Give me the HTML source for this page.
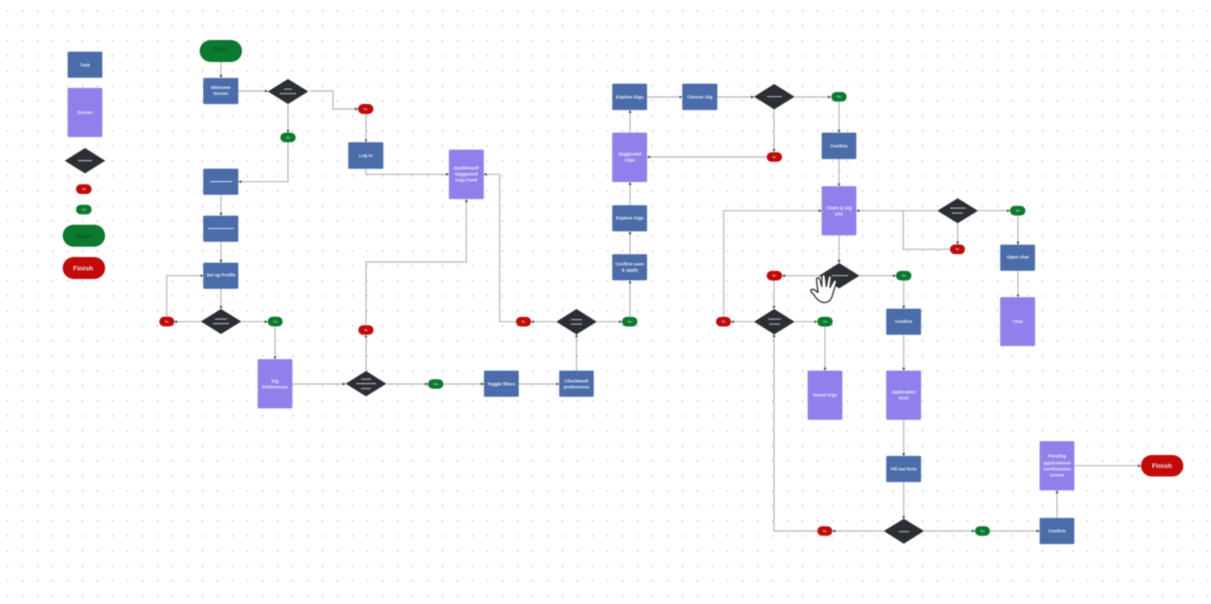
<!DOCTYPE html>
<html><head><meta charset="utf-8"><style>
html,body{margin:0;padding:0;background:#fff;width:1211px;height:604px;overflow:hidden}
svg{display:block;filter:blur(.5px)}
text{font-family:"Liberation Sans",sans-serif;font-weight:700;text-anchor:middle;fill:#eef0fb;font-size:4.5px}
.t{fill:#4a6ca8;stroke:#8fa6d0;stroke-width:.5}
.s{fill:#8f80ec;stroke:#b5abf3;stroke-width:.5}
.d{fill:#2c2e35}
.r{fill:#c20a0a}
.g{fill:#0b7a2e}
.b{fill:#a5a6aa}
.e path{fill:none;stroke:#b6b6b6;stroke-width:1.2;marker-end:url(#a)}
.n{fill:none;stroke:#b6b6b6;stroke-width:1.2}
.p text{font-size:2.7px;fill:#d8dcd8}
text.big{font-size:6.8px}
</style></head><body>
<svg width="1211" height="604" viewBox="0 0 1211 604" xmlns="http://www.w3.org/2000/svg">
<defs>
<pattern id="dots" x="7" y="10" width="15" height="15" patternUnits="userSpaceOnUse"><rect width="1.1" height="1.8" fill="#c4c4c4"/></pattern>
<marker id="a" markerWidth="4" markerHeight="4" refX="3" refY="1.5" orient="auto" markerUnits="userSpaceOnUse"><path d="M0 0L3 1.5L0 3Z" fill="#444" stroke="none" style="marker-end:none"/></marker>
</defs>
<rect width="1211" height="604" fill="#fff"/>
<rect width="1211" height="604" fill="url(#dots)"/>

<g class="e">
<path d="M221 62V78"/>
<path d="M238.3 91H268"/>
<path d="M310 91H333V109H358"/>
<path d="M366 114V142.3"/>
<path d="M288 104V133"/>
<path d="M288 142V181.7H238.3"/>
<path d="M221 194.7V215.7"/>
<path d="M221 241.7V262.7"/>
<path d="M221 288.7V309"/>
<path d="M201 321.7H174"/>
<path d="M166.7 317V275.7H203.3"/>
<path d="M242 321.7H267.7"/>
<path d="M275 326V359.3"/>
<path d="M292.3 384H345.7"/>
<path d="M366 371V334.7"/>
<path d="M366 325V262H466.3V199"/>
<path d="M387 384H428"/>
<path d="M443 384H484"/>
<path d="M518.7 384H559.3"/>
<path d="M576.5 370.7V334"/>
<path d="M556 321.7H531"/>
<path d="M516 321.7H499.7V174.3H483.7"/>
<path d="M366 168.7V174.3H449"/>
<path d="M597 321.7H622"/>
<path d="M630 317V280.3"/>
<path d="M630 254.3V231.3"/>
<path d="M630 205.3V182"/>
<path d="M630 132.7V110"/>
<path d="M647 97H682.3"/>
<path d="M717.3 97H754"/>
<path d="M794.7 97H831"/>
<path d="M839 102V132.7"/>
<path d="M839 159V186.3"/>
<path d="M839 235.3V263"/>
<path d="M774 109V152"/>
<path d="M766.7 157H647"/>
<path d="M819 275.7H782"/>
<path d="M859.3 275.7H896"/>
<path d="M903.7 280.5V308.7"/>
<path d="M774 280.5V309"/>
<path d="M754 321.7H731"/>
<path d="M723.7 317V210.7H821.7"/>
<path d="M794.7 321.7H817.3"/>
<path d="M825 326.5V370.7"/>
<path d="M903.7 334.7V370.7"/>
<path d="M903.7 419.7V456"/>
<path d="M903.7 482V519"/>
<path d="M883.7 531H832.3"/>
<path d="M817.3 531H774V334"/>
<path d="M924 531H975"/>
<path d="M990 531H1039.7"/>
<path d="M1057 518V490.3"/>
<path d="M1074.3 465.7H1141"/>
<path d="M937.3 210.7H856.3"/>
<path d="M957.7 223.3V244.5"/>
<path d="M978 210.7H1010"/>
<path d="M1018 215.5V244.7"/>
<path d="M1018 270.7V297.3"/>
</g>
<path class="n" d="M950 249.3H903.3V210.7"/>

<!-- tasks -->
<rect class="t" x="67.7" y="51.7" width="34.6" height="26" rx="1"/>
<rect class="t" x="203.3" y="78" width="35" height="26" rx="1"/>
<rect class="t" x="203.3" y="168.7" width="35" height="26" rx="1"/>
<rect class="t" x="203.3" y="215.7" width="35" height="26" rx="1"/>
<rect class="t" x="203.3" y="262.7" width="35" height="26" rx="1"/>
<rect class="t" x="348.3" y="142.3" width="35" height="26.4" rx="1"/>
<rect class="t" x="484" y="370.7" width="34.7" height="26" rx="1"/>
<rect class="t" x="559.3" y="370.7" width="34.4" height="26" rx="1"/>
<rect class="t" x="612.3" y="254.3" width="34.7" height="26" rx="1"/>
<rect class="t" x="612.3" y="205.3" width="34.7" height="26" rx="1"/>
<rect class="t" x="612.3" y="83.7" width="34.7" height="26.3" rx="1"/>
<rect class="t" x="682.3" y="83.7" width="35" height="26.3" rx="1"/>
<rect class="t" x="821.7" y="132.7" width="34.6" height="26.3" rx="1"/>
<rect class="t" x="886.3" y="308.7" width="34.7" height="26" rx="1"/>
<rect class="t" x="886.3" y="456" width="34.7" height="26" rx="1"/>
<rect class="t" x="1000.3" y="244.7" width="34.7" height="26" rx="1"/>
<rect class="t" x="1039.7" y="518" width="34.6" height="26" rx="1"/>

<!-- screens -->
<rect class="s" x="67.7" y="88" width="34.6" height="49" rx="1"/>
<rect class="s" x="257.7" y="359.3" width="34.6" height="49" rx="1"/>
<rect class="s" x="449" y="149.7" width="34.7" height="49.3" rx="1"/>
<rect class="s" x="612.3" y="132.7" width="34.7" height="49.3" rx="1"/>
<rect class="s" x="821.7" y="186.3" width="34.6" height="49" rx="1"/>
<rect class="s" x="1000.3" y="297.3" width="34.7" height="48.7" rx="1"/>
<rect class="s" x="807.7" y="370.7" width="34.6" height="49" rx="1"/>
<rect class="s" x="886.3" y="370.7" width="34.7" height="49" rx="1"/>
<rect class="s" x="1039.7" y="441.3" width="34.6" height="49" rx="1"/>

<!-- diamonds -->
<polygon class="d" points="64.7,160.7 85,148 105.3,160.7 85,173.4"/>
<polygon class="d" points="267.8,91.5 288,79 308.3,91.5 288,104"/>
<polygon class="d" points="200.8,321.5 221,309 241.3,321.5 221,334"/>
<polygon class="d" points="345.7,383.7 366,371 386.3,383.7 366,396.4"/>
<polygon class="d" points="556.3,321.7 576.5,309 596.8,321.7 576.5,334.4"/>
<polygon class="d" points="754,96.7 774.2,84 794.6,96.7 774.2,109.4"/>
<polygon class="d" points="819,275.7 839.2,263 859.4,275.7 839.2,288.4"/>
<polygon class="d" points="754,321.7 774.2,309 794.6,321.7 774.2,334.4"/>
<polygon class="d" points="937.3,210.7 957.7,198.2 978,210.7 957.7,223.3"/>
<polygon class="d" points="883.7,531 903.8,518.8 924,531 903.8,543.8"/>

<!-- greeked diamond labels -->
<rect class="b" x="78" y="160" width="14" height="1.3"/>
<rect class="b" x="284" y="88.5" width="8" height="1.2"/><rect class="b" x="280" y="93" width="16" height="1.2"/>
<rect class="b" x="215" y="318.5" width="12" height="1.2"/><rect class="b" x="213" y="323" width="16" height="1.2"/>
<rect class="b" x="361" y="378.5" width="10" height="1.2"/><rect class="b" x="356" y="383" width="20" height="1.2"/><rect class="b" x="361" y="388" width="10" height="1.2"/>
<rect class="b" x="571" y="319" width="11" height="1.2"/><rect class="b" x="571" y="323.5" width="11" height="1.2"/>
<rect class="b" x="767" y="96" width="15" height="1.2"/>
<rect class="b" x="832" y="275" width="16" height="1.2"/>
<rect class="b" x="768" y="318.5" width="13" height="1.2"/><rect class="b" x="769" y="323.5" width="11" height="1.2"/>
<rect class="b" x="950" y="207.5" width="16" height="1.2"/><rect class="b" x="952" y="212.5" width="11" height="1.2"/>
<rect class="b" x="899" y="531" width="10" height="1.2"/>

<!-- greeked task labels -->
<rect x="210" y="181" width="22" height="1.1" fill="#c9d3e8"/>
<rect x="208" y="228" width="26" height="1.1" fill="#c9d3e8"/>

<!-- pills -->
<rect class="r" x="76" y="184.3" width="15.6" height="9.7" rx="4.8"/>
<rect class="g" x="76" y="204.7" width="15.6" height="9.7" rx="4.8"/>
<rect class="r" x="358" y="104" width="15.4" height="10" rx="5"/>
<rect class="g" x="280.3" y="132.7" width="15.4" height="9.6" rx="4.8"/>
<rect class="r" x="159.3" y="316.8" width="15" height="9.6" rx="4.8"/>
<rect class="g" x="267.7" y="316.8" width="15" height="9.6" rx="4.8"/>
<rect class="r" x="358.3" y="325.2" width="15.2" height="9.6" rx="4.8"/>
<rect class="g" x="428" y="379.2" width="15.4" height="9.6" rx="4.8"/>
<rect class="r" x="516" y="316.9" width="15" height="9.6" rx="4.8"/>
<rect class="g" x="622" y="316.9" width="15.4" height="9.6" rx="4.8"/>
<rect class="g" x="831.3" y="92" width="15.4" height="9.6" rx="4.8"/>
<rect class="r" x="766.7" y="152.2" width="15.4" height="9.6" rx="4.8"/>
<rect class="r" x="766.7" y="270.9" width="15.4" height="9.6" rx="4.8"/>
<rect class="g" x="896" y="270.9" width="15.4" height="9.6" rx="4.8"/>
<rect class="r" x="716" y="316.9" width="15" height="9.6" rx="4.8"/>
<rect class="g" x="817.3" y="316.9" width="15.4" height="9.6" rx="4.8"/>
<rect class="r" x="950" y="244.5" width="15" height="9.6" rx="4.8"/>
<rect class="g" x="1010" y="205.9" width="15.4" height="9.6" rx="4.8"/>
<rect class="r" x="817.3" y="526.2" width="15" height="9.6" rx="4.8"/>
<rect class="g" x="975" y="526.2" width="15" height="9.6" rx="4.8"/>

<rect class="g" x="62.7" y="224.7" width="42.4" height="22" rx="11"/>
<rect class="r" x="62.7" y="257" width="42.4" height="22" rx="11"/>
<rect class="g" x="199.7" y="40" width="42.3" height="22" rx="11"/>
<rect class="r" x="1141" y="455" width="42.3" height="21.5" rx="10.7"/>

<!-- pill labels -->
<g class="p">
<text x="84" y="190">No</text><text x="84" y="210.4">Yes</text>
<text x="365.7" y="109.9">No</text><text x="288" y="138.3">Yes</text>
<text x="166.8" y="322.5">No</text><text x="275.2" y="322.5">Yes</text>
<text x="366" y="330.9">No</text><text x="435.7" y="384.9">Yes</text>
<text x="523.5" y="322.6">No</text><text x="629.7" y="322.6">Yes</text>
<text x="839" y="97.7">Yes</text><text x="774.4" y="157.9">No</text>
<text x="774.4" y="276.6">No</text><text x="903.7" y="276.6">Yes</text>
<text x="723.5" y="322.6">No</text><text x="825" y="322.6">Yes</text>
<text x="957.5" y="250.2">No</text><text x="1017.7" y="211.6">Yes</text>
<text x="824.8" y="531.9">No</text><text x="982.5" y="531.9">Yes</text>
</g>

<!-- labels -->
<text x="85" y="66.3">Task</text>
<text x="85" y="114.2">Screen</text>
<text x="84" y="238.5" class="big" style="fill:#0a5a22">Start</text>
<text x="83" y="270.5" class="big" style="fill:#f6e6e6">Finish</text>
<text x="220.7" y="50.9" class="big" style="fill:#0a5a22">Start</text>
<text x="1162" y="468" class="big" style="fill:#f6e6e6">Finish</text>
<text x="220.7" y="89.2">Welcome</text><text x="220.7" y="95">Screen</text>
<text x="221" y="276.5">Set up Profile</text>
<text x="275" y="382.5">Gig</text><text x="275" y="388.5">Preferences</text>
<text x="365.8" y="156.8">Log in</text>
<text x="466.3" y="169.5">Dashboard/</text><text x="466.3" y="175.5">Suggested</text><text x="466.3" y="181.5">Gigs Feed</text>
<text x="501.3" y="385.5">Toggle filters</text>
<text x="576.5" y="382.5">Checkwork</text><text x="576.5" y="388.5">preferences</text>
<text x="629.7" y="265.5">Confirm save</text><text x="629.7" y="271.5">&amp; apply</text>
<text x="629.7" y="219.5">Explore Gigs</text>
<text x="629.7" y="155.5">Suggested</text><text x="629.7" y="161.5">Gigs</text>
<text x="629.7" y="98.5">Explore Gigs</text>
<text x="699.8" y="98.5">Choose Gig</text>
<text x="839" y="147.5">Confirm</text>
<text x="839" y="209.5">Client &amp; Gig</text><text x="839" y="215.5">Info</text>
<text x="903.7" y="323">Confirm</text>
<text x="1017.7" y="258.5">Open chat</text>
<text x="1017.7" y="323.2">Chat</text>
<text x="825" y="396.5">Saved Gigs</text>
<text x="903.7" y="393.5">Application</text><text x="903.7" y="399.5">form</text>
<text x="903.7" y="470.5">Fill out form</text>
<text x="1057" y="532.5">Confirm</text>
<text x="1057" y="457.5">Pending</text><text x="1057" y="464.5">applications/</text><text x="1057" y="470.5">Confirmation</text><text x="1057" y="476.5">screen</text>

<!-- hand cursor -->
<path d="M811.5 289.5C813.5 288.5 816 291 818 292.5L816.5 280C816.3 277.5 819 277 819.8 279.3L821.8 286.5L822 276.3C822 274 825 274 825.3 276.3L826.3 286.5L828.4 277C829 274.8 831.7 275.5 831.3 277.8L830 287.5L833.5 281C834.7 279 837.2 280.2 836.5 282.3L833 293C832 298.5 829.5 302.5 824.5 302.5C820.5 302.5 818 300.5 815.5 297C814 295 812 292.5 811 291.5C810.6 290.8 810.8 290 811.5 289.5Z" fill="#fff" stroke="#333" stroke-width="1.3" stroke-linejoin="round"/>
</svg>
</body></html>
